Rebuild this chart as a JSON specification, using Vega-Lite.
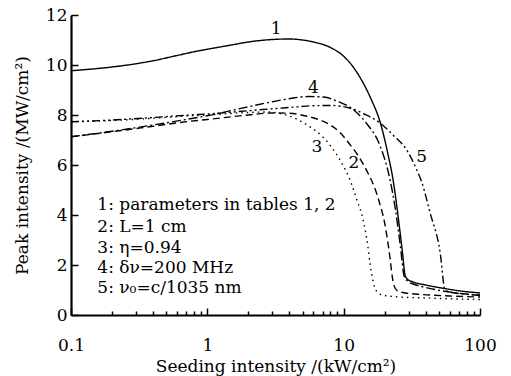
{
  "$schema": "https://vega.github.io/schema/vega-lite/v6.json",
  "width": 409,
  "height": 300,
  "autosize": {"type": "none"},
  "padding": {"left": 71, "top": 15, "right": 31, "bottom": 61},
  "background": "white",
  "config": {
    "view": {"stroke": null},
    "font": "DejaVu Serif",
    "axis": {
      "labelFont": "DejaVu Serif", "labelFontSize": 17, "labelColor": "black",
      "titleFont": "DejaVu Serif", "titleFontSize": 17, "titleFontWeight": "normal", "titleColor": "black",
      "domainColor": "black", "domainWidth": 2.2, "tickColor": "black", "tickWidth": 1.5, "grid": false
    }
  },
  "datasets": {
    "curves": [
      {"s":"1","x":0.1,"y":9.77},{"s":"1","x":0.15,"y":9.85},{"s":"1","x":0.2,"y":9.92},{"s":"1","x":0.3,"y":10.05},{"s":"1","x":0.4,"y":10.17},{"s":"1","x":0.6,"y":10.38},{"s":"1","x":0.8,"y":10.53},{"s":"1","x":1,"y":10.63},{"s":"1","x":1.5,"y":10.8},{"s":"1","x":2,"y":10.92},{"s":"1","x":3,"y":11.02},{"s":"1","x":4,"y":11.04},{"s":"1","x":5,"y":11.0},{"s":"1","x":6,"y":10.92},{"s":"1","x":8,"y":10.7},{"s":"1","x":10,"y":10.35},{"s":"1","x":12,"y":9.85},{"s":"1","x":14,"y":9.25},{"s":"1","x":16,"y":8.6},{"s":"1","x":18.6,"y":7.68},{"s":"1","x":21,"y":6.5},{"s":"1","x":23.2,"y":5.3},{"s":"1","x":25,"y":4.0},{"s":"1","x":27,"y":2.5},{"s":"1","x":28.2,"y":1.6},{"s":"1","x":29.5,"y":1.42},{"s":"1","x":32,"y":1.33},{"s":"1","x":40,"y":1.2},{"s":"1","x":53.5,"y":1.07},{"s":"1","x":70,"y":0.97},{"s":"1","x":100,"y":0.88},
      {"s":"2","x":0.1,"y":7.13},{"s":"2","x":0.2,"y":7.33},{"s":"2","x":0.4,"y":7.55},{"s":"2","x":0.75,"y":7.75},{"s":"2","x":1,"y":7.82},{"s":"2","x":2,"y":8.0},{"s":"2","x":3,"y":8.08},{"s":"2","x":4,"y":8.07},{"s":"2","x":5.4,"y":7.95},{"s":"2","x":6.7,"y":7.8},{"s":"2","x":8,"y":7.6},{"s":"2","x":9.4,"y":7.3},{"s":"2","x":11,"y":6.85},{"s":"2","x":12.5,"y":6.45},{"s":"2","x":15,"y":5.7},{"s":"2","x":16.7,"y":5.15},{"s":"2","x":18.3,"y":4.5},{"s":"2","x":20,"y":3.67},{"s":"2","x":21.5,"y":2.6},{"s":"2","x":23.1,"y":1.3},{"s":"2","x":24.4,"y":1.0},{"s":"2","x":27,"y":0.9},{"s":"2","x":35,"y":0.83},{"s":"2","x":43,"y":0.8},{"s":"2","x":60,"y":0.76},{"s":"2","x":100,"y":0.72},
      {"s":"3","x":0.1,"y":7.73},{"s":"3","x":0.2,"y":7.78},{"s":"3","x":0.4,"y":7.87},{"s":"3","x":0.75,"y":7.97},{"s":"3","x":1,"y":8.0},{"s":"3","x":2,"y":8.1},{"s":"3","x":2.7,"y":8.12},{"s":"3","x":3.5,"y":8.05},{"s":"3","x":4.05,"y":7.95},{"s":"3","x":5.4,"y":7.6},{"s":"3","x":7.1,"y":7.1},{"s":"3","x":8.3,"y":6.65},{"s":"3","x":9.4,"y":6.2},{"s":"3","x":11.5,"y":5.2},{"s":"3","x":12.5,"y":4.6},{"s":"3","x":13.9,"y":3.8},{"s":"3","x":15,"y":2.8},{"s":"3","x":15.6,"y":2.07},{"s":"3","x":16.5,"y":1.3},{"s":"3","x":18,"y":0.87},{"s":"3","x":20,"y":0.78},{"s":"3","x":24.4,"y":0.73},{"s":"3","x":40,"y":0.68},{"s":"3","x":100,"y":0.62},
      {"s":"4","x":0.1,"y":7.13},{"s":"4","x":0.2,"y":7.35},{"s":"4","x":0.4,"y":7.6},{"s":"4","x":0.75,"y":7.85},{"s":"4","x":1,"y":7.97},{"s":"4","x":2,"y":8.33},{"s":"4","x":3,"y":8.53},{"s":"4","x":4.05,"y":8.66},{"s":"4","x":5.5,"y":8.74},{"s":"4","x":7.1,"y":8.72},{"s":"4","x":9,"y":8.55},{"s":"4","x":11.2,"y":8.3},{"s":"4","x":13,"y":8.0},{"s":"4","x":14.8,"y":7.65},{"s":"4","x":18.6,"y":6.73},{"s":"4","x":21.9,"y":5.4},{"s":"4","x":24,"y":4.2},{"s":"4","x":26,"y":2.8},{"s":"4","x":27.8,"y":1.55},{"s":"4","x":29.5,"y":1.35},{"s":"4","x":32,"y":1.25},{"s":"4","x":40,"y":1.1},{"s":"4","x":55,"y":0.95},{"s":"4","x":75,"y":0.85},{"s":"4","x":100,"y":0.8},
      {"s":"5","x":0.1,"y":7.73},{"s":"5","x":0.2,"y":7.8},{"s":"5","x":0.4,"y":7.9},{"s":"5","x":0.75,"y":8.0},{"s":"5","x":1,"y":8.04},{"s":"5","x":2,"y":8.17},{"s":"5","x":3,"y":8.25},{"s":"5","x":4,"y":8.3},{"s":"5","x":6,"y":8.37},{"s":"5","x":8,"y":8.38},{"s":"5","x":11.2,"y":8.27},{"s":"5","x":14,"y":8.05},{"s":"5","x":18.6,"y":7.67},{"s":"5","x":23,"y":7.2},{"s":"5","x":29,"y":6.6},{"s":"5","x":34.4,"y":5.8},{"s":"5","x":37.2,"y":5.35},{"s":"5","x":43,"y":4.1},{"s":"5","x":51,"y":2.5},{"s":"5","x":55.4,"y":1.0},{"s":"5","x":60,"y":0.92},{"s":"5","x":80,"y":0.83},{"s":"5","x":100,"y":0.78}
    ],
    "labels": [
      {"x":3.2,"y":11.43,"t":"1"},{"x":11.9,"y":6.07,"t":"2"},{"x":6.36,"y":6.73,"t":"3"},{"x":6.0,"y":9.07,"t":"4"},{"x":37.4,"y":6.33,"t":"5"}
    ],
    "notes": [
      {"x":0.156,"y":4.4,"t":"1: parameters in tables 1, 2"},
      {"x":0.156,"y":3.53,"t":"2: L=1 cm"},
      {"x":0.156,"y":2.67,"t":"3: η=0.94"},
      {"x":0.156,"y":1.87,"t":"4:  δν=200 MHz"},
      {"x":0.156,"y":1.07,"t":"5: ν₀=c/1035 nm"}
    ]
  },
  "layer": [
    {
      "data": {"name": "curves"},
      "mark": {"type": "line", "interpolate": "monotone", "color": "black", "strokeWidth": 1.4},
      "encoding": {
        "x": {"field": "x", "type": "quantitative",
          "scale": {"type": "log", "domain": [0.1, 100], "nice": false},
          "axis": {
            "title": "Seeding intensity /(kW/cm²)",
            "values": [0.1,0.2,0.3,0.4,0.5,0.6,0.7,0.8,0.9,1,2,3,4,5,6,7,8,9,10,20,30,40,50,60,70,80,90,100],
            "labelExpr": "abs(log(datum.value)/LN10 - round(log(datum.value)/LN10)) < 0.001 ? datum.label : ''",
            "tickSize": {"condition": {"test": "abs(log(datum.value)/LN10 - round(log(datum.value)/LN10)) < 0.001", "value": -7}, "value": -4},
            "labelPadding": 29,
            "labelFlush": false,
            "labelOverlap": false,
            "titlePadding": 2
          }
        },
        "y": {"field": "y", "type": "quantitative",
          "scale": {"domain": [0, 12], "nice": false},
          "axis": {
            "title": "Peak intensity /(MW/cm²)",
            "values": [0,1,2,3,4,5,6,7,8,9,10,11,12],
            "labelExpr": "datum.value % 2 == 0 ? datum.label : ''",
            "tickSize": {"condition": {"test": "datum.value % 2 == 0", "value": -7}, "value": -4},
            "labelPadding": 11,
            "labelOverlap": false,
            "titlePadding": 14
          }
        },
        "detail": {"field": "s"},
        "strokeDash": {"field": "s", "type": "nominal", "legend": null,
          "scale": {"domain": ["1","2","3","4","5"], "range": [[1,0],[7,4],[1.5,4],[9,3,2,3],[8,3,2,3,2,3]]}}
      }
    },
    {
      "data": {"name": "labels"},
      "mark": {"type": "text", "font": "DejaVu Serif", "fontSize": 17, "color": "black", "baseline": "middle", "align": "center"},
      "encoding": {
        "x": {"field": "x", "type": "quantitative"},
        "y": {"field": "y", "type": "quantitative"},
        "text": {"field": "t"}
      }
    },
    {
      "data": {"name": "notes"},
      "mark": {"type": "text", "font": "DejaVu Serif", "fontSize": 17, "color": "black", "baseline": "middle", "align": "left"},
      "encoding": {
        "x": {"field": "x", "type": "quantitative"},
        "y": {"field": "y", "type": "quantitative"},
        "text": {"field": "t"}
      }
    }
  ]
}
